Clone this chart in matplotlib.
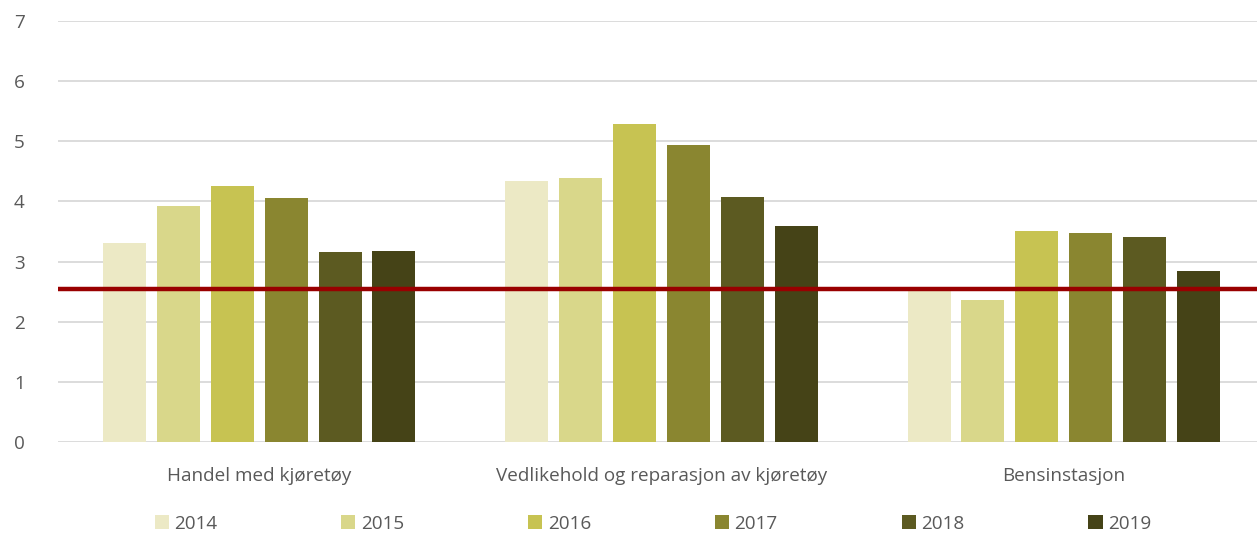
import matplotlib.pyplot as plt
import numpy as np

categories = ["Handel med kjøretøy", "Vedlikehold og reparasjon av kjøretøy", "Bensinstasjon"]
years = ["2014", "2015", "2016", "2017", "2018", "2019"]
values = {
    "2014": [3.31, 4.34, 2.51],
    "2015": [3.92, 4.39, 2.36],
    "2016": [4.25, 5.28, 3.50],
    "2017": [4.05, 4.93, 3.48],
    "2018": [3.16, 4.07, 3.40],
    "2019": [3.18, 3.59, 2.85],
}
average = 2.54
colors = ["#ECE9C5", "#D9D78A", "#C7C352", "#8A8630", "#5C5A21", "#454317"]

plt.rcParams["font.family"] = ["Open Sans", "DejaVu Sans"]
text_color = "#595959"
fs = 13.6

fig = plt.figure(figsize=(12.57, 5.35), dpi=100)
ax = fig.add_axes([58 / 1257, 0.174, 1207 / 1257, 0.7867])

x = np.arange(len(categories))
step = 0.134
width = 0.107
for i, year in enumerate(years):
    ax.bar(x + (i - 2.5) * step, values[year], width, color=colors[i],
           label=year, zorder=3)

ax.axhline(average, color="#990000", linewidth=3.2, zorder=4)

ax.set_xlim(-0.5, 2.5)
ax.set_ylim(0, 7)
ax.set_yticks(range(8))
ax.set_xticks(x)
ax.set_xticklabels(categories)
ax.yaxis.grid(True, color="#D9D9D9", linewidth=1.3, zorder=0)
for s in ax.spines.values():
    s.set_visible(False)
ax.tick_params(axis="both", length=0, labelsize=fs, colors=text_color)
ax.tick_params(axis="y", pad=24)
ax.tick_params(axis="x", pad=18)

fig.legend(loc="center", bbox_to_anchor=(0.5195, 0.021), ncol=6, frameon=False,
           fontsize=fs, labelcolor=text_color, handlelength=0.75,
           handleheight=0.75, handletextpad=0.3, columnspacing=6.55)

fig.savefig("out.png", dpi=100)
